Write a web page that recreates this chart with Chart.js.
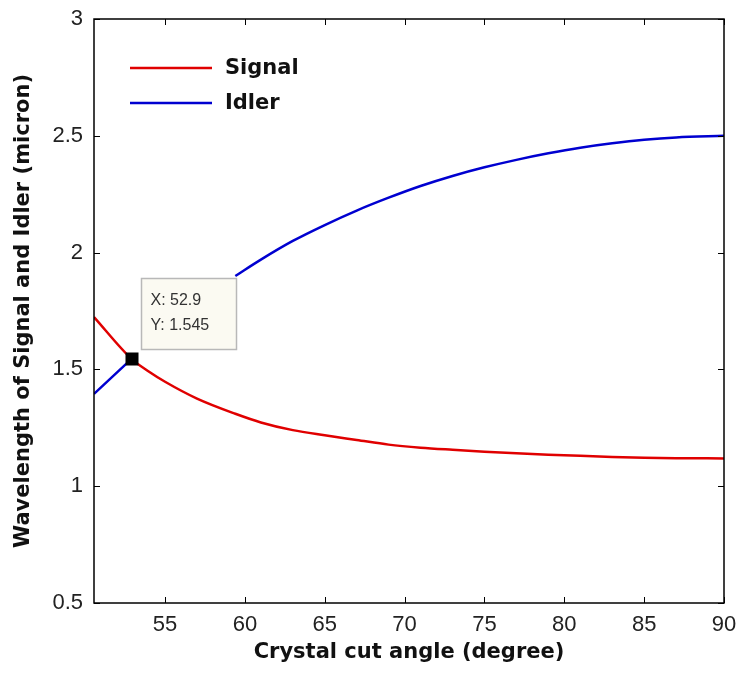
<!DOCTYPE html>
<html>
<head>
<meta charset="utf-8">
<script src="https://cdn.jsdelivr.net/npm/chart.js@4/dist/chart.umd.min.js"></script>
<style>
  html, body { margin: 0; padding: 0; background: #fff; }
  #wrap { width: 741px; height: 674px; }
</style>
</head>
<body>
<div id="wrap"><canvas id="chart_wavelength"></canvas></div>
<script>
// crystal cut angle (degree)
var angles = [50.55, 52.9, 54, 55, 57, 59.4, 61, 63, 65, 67, 69, 71, 73, 75, 77, 79, 81, 83, 85, 87, 90]
// wavelengths (micron), idler has a hole where the solver gave nothing
var signal = [1.724, 1.545, 1.49, 1.447, 1.375, 1.31, 1.273, 1.24, 1.218, 1.198, 1.178, 1.165, 1.156, 1.148, 1.141, 1.135, 1.13, 1.1255, 1.122, 1.12, 1.119]
var idler = [1.395, 1.545, null, null, null, 1.90, 1.97, 2.05, 2.118, 2.18, 2.235, 2.285, 2.328, 2.365, 2.397, 2.425, 2.449, 2.468, 2.483, 2.493, 2.5]

var xTicks = [55, 60, 65, 70, 75, 80, 85, 90]
var yTicks = [0.5, 1, 1.5, 2, 2.5, 3]

// data tip
var tipX = 52.9
var tipY = 1.545

var colors = {
  red: "#e00000",
  blue: "#0000d0"
}

var tickFont = { family: '"Liberation Sans", Arial, sans-serif', size: 22 }
var titleFont = { family: '"DejaVu Sans", sans-serif', size: 21, weight: 'bold' }

function toPoints(xs, ys) {
  return xs.map((x, i) => ({ x: x, y: ys[i] }))
}

// box, inward ticks, legend and data tip, matlab style
var matlabLook = {
  id: 'matlabLook',
  afterDraw(chart) {
    let c = chart.ctx
    let a = chart.chartArea
    let xs = chart.scales.x
    let ys = chart.scales.y

    c.save()
    c.strokeStyle = '#000'
    c.lineWidth = 1.5
    c.strokeRect(a.left, a.top, a.right - a.left, a.bottom - a.top)

    c.lineWidth = 1
    c.beginPath()
    for (let v of xTicks) {
      let px = Math.round(xs.getPixelForValue(v)) + 0.5
      c.moveTo(px, a.bottom); c.lineTo(px, a.bottom - 6)
      c.moveTo(px, a.top); c.lineTo(px, a.top + 6)
    }
    for (let v of yTicks) {
      let py = Math.round(ys.getPixelForValue(v)) + 0.5
      c.moveTo(a.left, py); c.lineTo(a.left + 6, py)
      c.moveTo(a.right, py); c.lineTo(a.right - 6, py)
    }
    c.stroke()

    // legend
    c.font = 'bold 21px "DejaVu Sans", sans-serif'
    c.textBaseline = 'middle'
    c.textAlign = 'left'
    let items = [[chart.data.datasets[0], 49], [chart.data.datasets[1], 84]]
    for (let [ds, dy] of items) {
      c.strokeStyle = ds.borderColor
      c.lineWidth = 2.5
      c.beginPath()
      c.moveTo(a.left + 36, a.top + dy)
      c.lineTo(a.left + 118, a.top + dy)
      c.stroke()
      c.fillStyle = '#111'
      c.fillText(ds.label, a.left + 131, a.top + dy + 1)
    }

    // data tip box
    let mx = xs.getPixelForValue(tipX)
    let my = ys.getPixelForValue(tipY)
    let bx = Math.round(mx) + 9.5
    let by = Math.round(my) - 80.5
    c.fillStyle = '#fbfaf2'
    c.fillRect(bx, by, 95, 71)
    c.strokeStyle = '#b8b8b8'
    c.lineWidth = 1.5
    c.strokeRect(bx, by, 95, 71)
    c.fillStyle = '#333'
    c.font = '16px "Liberation Sans", Arial, sans-serif'
    c.fillText('X: ' + tipX, bx + 9, by + 22)
    c.fillText('Y: ' + tipY, bx + 9, by + 47)

    // data tip marker on top of everything
    c.fillStyle = '#000'
    c.fillRect(Math.round(mx) - 6.5, Math.round(my) - 6.5, 13, 13)
    c.restore()
  }
}

var ctx = document.getElementById('chart_wavelength').getContext('2d')

var chart = new Chart(ctx, {
  type: 'line',
  data: {
    datasets: [{
      label: 'Signal',
      data: toPoints(angles, signal),
      borderColor: colors.red,
      borderWidth: 2.5,
      pointRadius: 0,
      cubicInterpolationMode: 'monotone',
      spanGaps: false
    }, {
      label: 'Idler',
      data: toPoints(angles, idler),
      borderColor: colors.blue,
      borderWidth: 2.5,
      pointRadius: 0,
      cubicInterpolationMode: 'monotone',
      spanGaps: false
    }]
  },
  options: {
    responsive: true,
    maintainAspectRatio: false,
    animation: false,
    layout: { padding: { top: 19, right: 17, left: 0, bottom: 0 } },
    plugins: {
      legend: { display: false },
      tooltip: { enabled: false }
    },
    scales: {
      x: {
        type: 'linear',
        min: 50.55,
        max: 90,
        afterBuildTicks: (axis) => { axis.ticks = xTicks.map(v => ({ value: v })) },
        afterFit: (axis) => { axis.height = 71 },
        grid: { display: false },
        border: { display: false },
        ticks: {
          color: '#222',
          padding: 1,
          font: tickFont,
          callback: (v) => String(v)
        },
        title: {
          display: true,
          text: 'Crystal cut angle (degree)',
          color: '#111',
          padding: { top: 0, bottom: 9 },
          font: titleFont
        }
      },
      y: {
        min: 0.5,
        max: 3,
        afterBuildTicks: (axis) => { axis.ticks = yTicks.map(v => ({ value: v })) },
        afterFit: (axis) => { axis.width = 94 },
        grid: { display: false },
        border: { display: false },
        ticks: {
          color: '#222',
          padding: 3,
          font: tickFont,
          callback: (v) => String(v)
        },
        title: {
          display: true,
          text: 'Wavelength of Signal and Idler (micron)',
          color: '#111',
          padding: { top: 11, bottom: 0 },
          font: titleFont
        }
      }
    }
  },
  plugins: [matlabLook]
})
</script>
</body>
</html>
